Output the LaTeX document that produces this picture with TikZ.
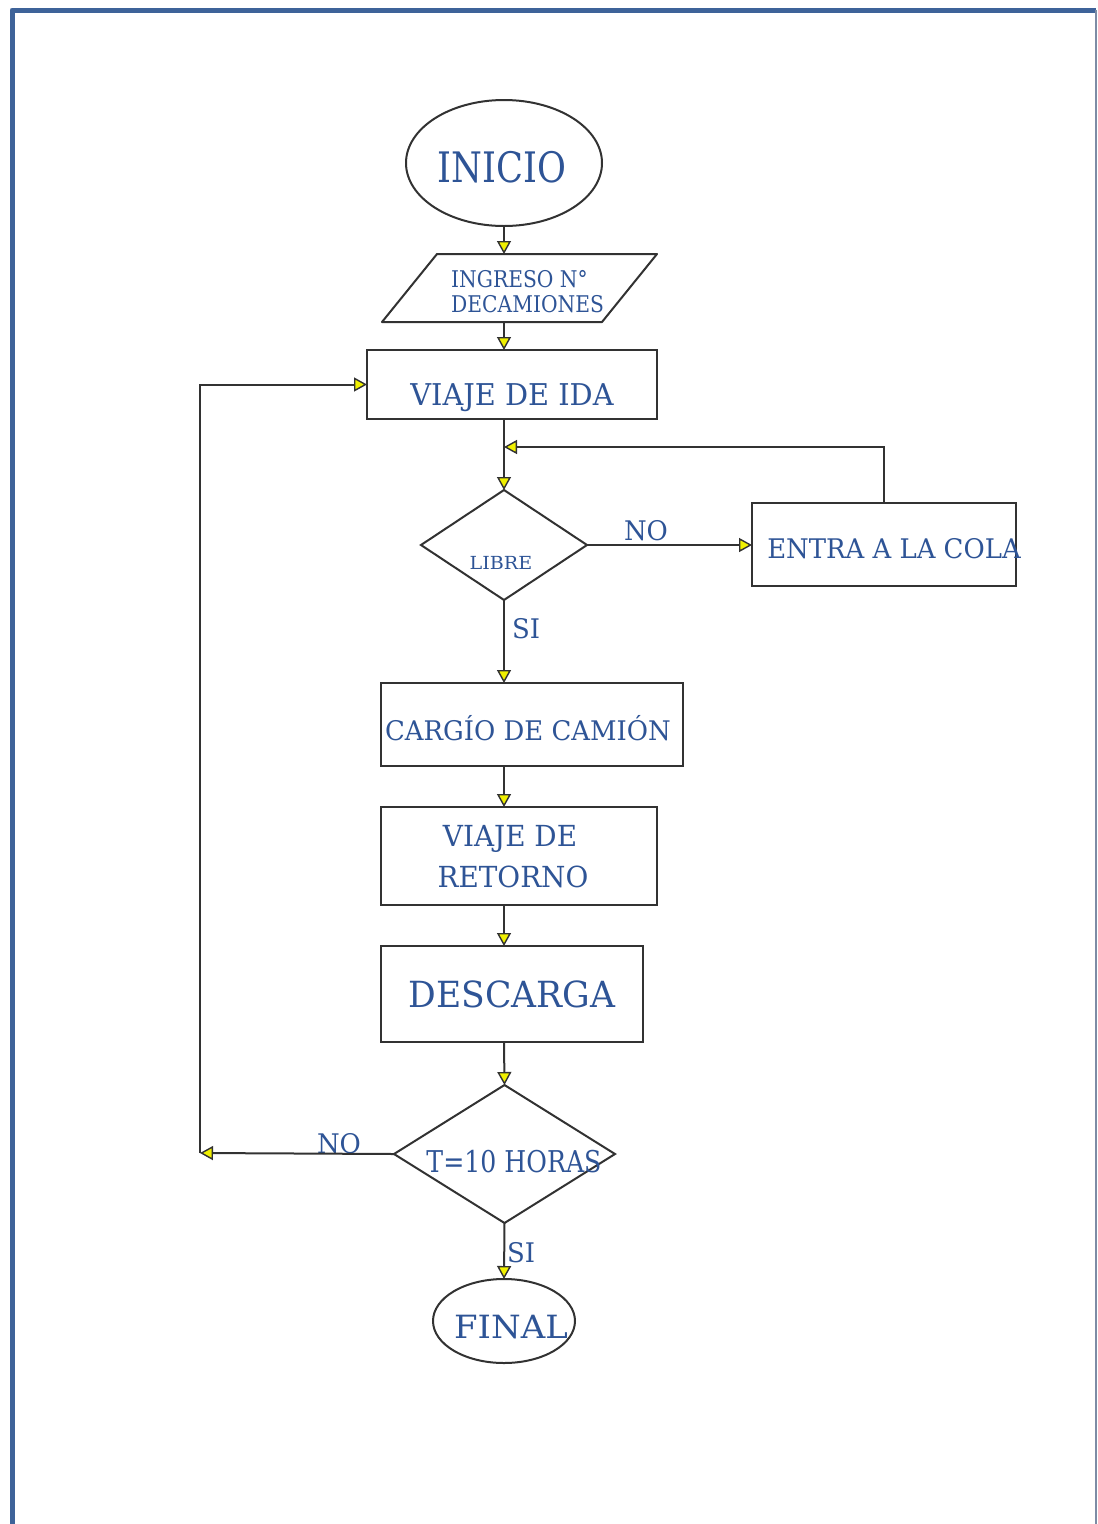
\documentclass[tikz,border=0pt]{standalone}
\usepackage{fontspec}
\setmainfont[FakeStretch=0.96]{DejaVu Serif}
\newfontfamily\narrowf[FakeStretch=0.84]{DejaVu Serif}
\newfontfamily\midf[FakeStretch=0.88]{DejaVu Serif}
\newfontfamily\widef[FakeStretch=1.06]{DejaVu Serif}
\usetikzlibrary{shapes.geometric,arrows.meta}
\definecolor{inkblue}{RGB}{46,84,150}
\definecolor{edge}{RGB}{50,50,50}
\definecolor{framebl}{RGB}{62,99,153}
\definecolor{framelt}{RGB}{125,140,165}
\definecolor{tipyel}{RGB}{240,240,0}
\newcommand\fsz[1]{\fontsize{#1}{#1}\selectfont}

\begin{document}
\begin{tikzpicture}[x=1pt,y=-1pt,
  shapebox/.style={draw=edge,line width=2pt,inner sep=0pt,outer sep=0pt},
  lbl/.style={text=inkblue,inner sep=0pt,anchor=base},
  arr/.style={draw=edge,line width=2pt,-{Triangle[width=14pt,length=13pt,fill=tipyel,line width=1.4pt]}},
  plain/.style={draw=edge,line width=2pt,line join=round}]

\useasboundingbox (0,0) rectangle (1098,1524);

% page frame
\draw[framebl,line width=5pt,line join=round] (12,1530) -- (12,10) -- (1096,10);
\draw[framelt,line width=2pt] (1096,10) -- (1096,1530);

% shapes
\node[shapebox,ellipse,minimum width=196,minimum height=126] (inicio) at (504,163) {};
% input block: slanted outline built on an invisible rectangle
\node[inner sep=0pt,outer sep=0pt,minimum width=220,minimum height=68] (ingreso) at (519.5,288) {};
\draw[plain] ([xshift=27.5]ingreso.north west) -- ([xshift=27.5]ingreso.north east)
  -- ([xshift=-27.5]ingreso.south east) -- ([xshift=-27.5]ingreso.south west) -- cycle;
\node[shapebox,rectangle,minimum width=290,minimum height=69] (ida) at (512,384.5) {};
\node[shapebox,diamond,minimum width=166,minimum height=110] (libre) at (504,545) {};
\node[shapebox,rectangle,minimum width=264,minimum height=83] (cola) at (884,544.5) {};
\node[shapebox,rectangle,minimum width=302,minimum height=83] (carg) at (532,724.5) {};
\node[shapebox,rectangle,minimum width=276,minimum height=98] (ret) at (519,856) {};
\node[shapebox,rectangle,minimum width=262,minimum height=96] (desc) at (512,994) {};
\node[shapebox,diamond,minimum width=221,minimum height=138] (horas) at (504.5,1154) {};
\node[shapebox,ellipse,minimum width=142,minimum height=84] (final) at (504,1321) {};

% texts
\node[lbl,font=\narrowf\fsz{42}] (inicioT) at (502,182) {INICIO};
\node[lbl,anchor=base west,font=\midf\fsz{23}] (ingresoT1) at (451,287) {INGRESO N°};
\node[lbl,anchor=base west,font=\midf\fsz{23}] (ingresoT2) at (451,312) {DECAMIONES};
\node[lbl,font=\fsz{30}] (idaT) at (512,405) {VIAJE DE IDA};
\node[lbl,font=\widef\fsz{18}] (libreT) at (501,569) {LIBRE};
\node[lbl,font=\fsz{27}] (colaT) at (894,558) {ENTRA A LA COLA};
\node[lbl,font=\fsz{27}] (cargT) at (528,740) {CARGÍO DE CAMIÓN};
\node[lbl,font=\fsz{29}] (retT1) at (510,846) {VIAJE DE};
\node[lbl,font=\fsz{29}] (retT2) at (513,887) {RETORNO};
\node[lbl,font=\fsz{36}] (descT) at (512,1007) {DESCARGA};
\node[lbl,font=\narrowf\fsz{30}] (horasT) at (514,1172) {T=10 HORAS};
\node[lbl,font=\widef\fsz{32}] (finalT) at (511,1338) {FINAL};

% branch labels
\node[lbl,font=\fsz{27}] (noA) at (646,540) {NO};
\node[lbl,font=\fsz{27}] (siA) at (526,638) {SI};
\node[lbl,font=\fsz{27}] (noB) at (339,1153) {NO};
\node[lbl,font=\fsz{27}] (siB) at (521,1262) {SI};

% junction points
\coordinate (join) at (504,447);
\coordinate (back) at (200,1153);

% connectors
\draw[arr] (inicio.south) -- (inicio.south |- ingreso.north);
\draw[arr] (inicio.south |- ingreso.south) -- (inicio.south |- ida.north);
\draw[arr] (libre.north |- ida.south) -- (libre.north);
\draw[arr] (cola.north) |- (join);
\draw[arr] (libre.east) -- (libre.east -| cola.west);
\draw[arr] (libre.south) -- (libre.south |- carg.north);
\draw[arr] (libre.south |- carg.south) -- (libre.south |- ret.north);
\draw[arr] (libre.south |- ret.south) -- (libre.south |- desc.north);
\draw[arr] (libre.south |- desc.south) -- (horas.north);
\draw[arr] (horas.west) -- (back);
\draw[arr] (back) |- (ida.west);
\draw[arr] (horas.south) -- (final.north);
\end{tikzpicture}
\end{document}
